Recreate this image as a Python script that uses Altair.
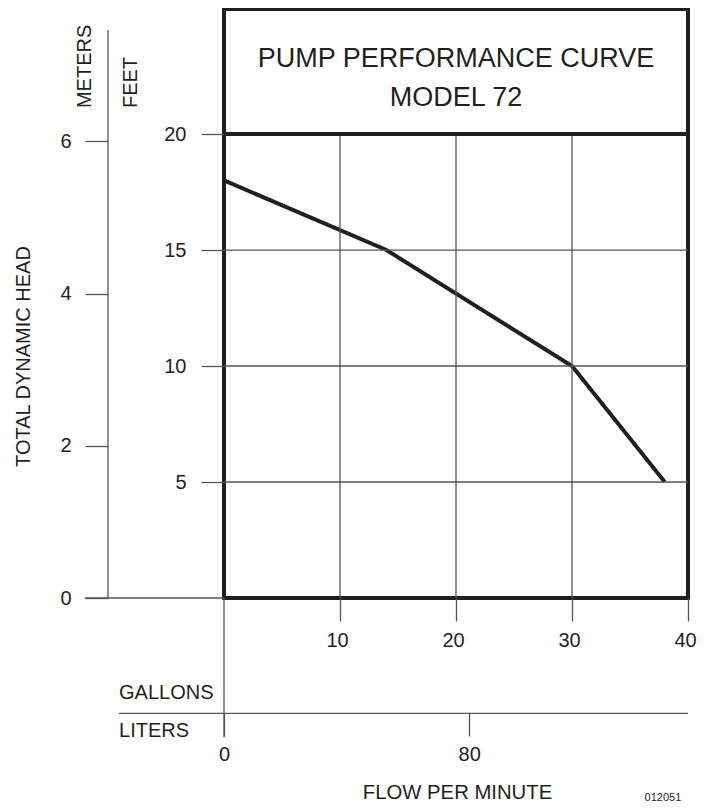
import altair as alt
import pandas as pd

# ---------------- data ----------------
flow_gpm = [0, 14, 30, 38]          # gallons per minute
head_ft = [18.0, 15, 10, 5]         # total dynamic head, feet

gpm_ticks = [10, 20, 30, 40]
ft_ticks = [5, 10, 15, 20]
m_ticks = [0, 2, 4, 6]
lpm_ticks = [0, 80]
gpm_grid = [10, 20, 30]
ft_grid = [5, 10, 15]

title_lines = ["PUMP PERFORMANCE CURVE", "MODEL 72"]
y_title = "TOTAL DYNAMIC HEAD"
x_title = "FLOW PER MINUTE"
unit_labels = ["METERS", "FEET"]
flow_units = ["GALLONS", "LITERS"]
code_label = "012051"

# ---------------- layout / style ----------------
GAL_MAX = 40
FT_MAX = 25.39
M_PER_FT = 0.3048
L_PER_GAL = 3.78541

DARK = "#231f20"
GRAY = "#555555"
FONT = "Liberation Sans, Arial, Helvetica, sans-serif"
TICK_FS = 20

xs = alt.Scale(domain=[0, GAL_MAX], nice=False, zero=False)
ys = alt.Scale(domain=[0, FT_MAX], nice=False, zero=False)


def ax(**kw):
    base = dict(title=None, domain=False, grid=False, labelFont=FONT, labelFontSize=TICK_FS,
                labelColor=DARK, tickColor=GRAY, tickWidth=1.3, labelFlush=False,
                labelOverlap=False)
    base.update(kw)
    return alt.Axis(**base)


GAL_AXIS = ax(orient="bottom", values=gpm_ticks, tickSize=23, labelPadding=9, labelOffset=-3)
FT_AXIS = ax(orient="left", values=ft_ticks, tickSize=23, labelPadding=15)


def X(f):
    return alt.X(f, type="quantitative", scale=xs, axis=GAL_AXIS)


def Y(f):
    return alt.Y(f, type="quantitative", scale=ys, axis=FT_AXIS)


# performance curve
curve = alt.Chart(pd.DataFrame({"g": flow_gpm, "h": head_ft})).mark_line(
    color=DARK, strokeWidth=4, strokeJoin="miter"
).encode(x=X("g"), y=Y("h"), order="g:Q")

vgrid = alt.Chart(pd.DataFrame({"g": gpm_grid, "y0": [0] * 3, "y1": [20] * 3})).mark_rule(
    color=GRAY, strokeWidth=1.3
).encode(x=X("g"), y=Y("y0"), y2="y1")

hgrid = alt.Chart(pd.DataFrame({"h": ft_grid, "x0": [0] * 3, "x1": [GAL_MAX] * 3})).mark_rule(
    color=GRAY, strokeWidth=1.3
).encode(y=Y("h"), x=X("x0"), x2="x1")

sep = alt.Chart(pd.DataFrame({"h": [20], "x0": [0], "x1": [GAL_MAX]})).mark_rule(
    color=DARK, strokeWidth=4
).encode(y=Y("h"), x=X("x0"), x2="x1")

# auxiliary scale lines (meters axis line, zero line, zero-flow drop line, liters line)
aux = pd.DataFrame({
    "x": [-10, -12, 0, -9.05],
    "x2": [-10, 0, 0, GAL_MAX],
    "y": [0, 0, 0, -4.97],
    "y2": [24.48, 0, -6, -4.97],
})
aux_rules = alt.Chart(aux).mark_rule(color=GRAY, strokeWidth=1.3).encode(
    x=X("x"), x2="x2", y=Y("y"), y2="y2"
)


def text_layer(df, size, align="center", angle=0):
    return alt.Chart(df).mark_text(
        fontSize=size, font=FONT, align=align, baseline="middle", angle=angle, color=DARK
    ).encode(x=X("x"), y=Y("y"), text="t:N")


t_title = text_layer(pd.DataFrame({"t": title_lines, "x": [20, 20], "y": [23.23, 21.55]}), 27)
t_ytitle = text_layer(pd.DataFrame({"t": [y_title], "x": [-17.2], "y": [10.41]}), 20, angle=270)
t_units = text_layer(pd.DataFrame({"t": unit_labels, "x": [-11.94, -8.06], "y": [21.12, 21.12]}), 20,
                     align="left", angle=270)
t_flow_units = text_layer(pd.DataFrame({"t": flow_units, "x": [-9.05, -9.05], "y": [-4.11, -5.73]}), 20,
                          align="left")
t_xtitle = text_layer(pd.DataFrame({"t": [x_title], "x": [20.13], "y": [-8.4]}), 20.3)
t_code = text_layer(pd.DataFrame({"t": [code_label], "x": [37.84], "y": [-8.62]}), 11)

base = alt.layer(curve, vgrid, hgrid, aux_rules, sep, t_title, t_ytitle, t_units, t_flow_units, t_xtitle, t_code)

# meters / liters axes on their own scales
ml = alt.Chart(pd.DataFrame({"l": [0], "m": [0]})).mark_point(opacity=0).encode(
    x=alt.X("l:Q", scale=alt.Scale(domain=[0, GAL_MAX * L_PER_GAL], nice=False, zero=False),
            axis=ax(orient="bottom", offset=115, values=lpm_ticks, tickSize=23, labelPadding=8)),
    y=alt.Y("m:Q", scale=alt.Scale(domain=[0, FT_MAX * M_PER_FT], nice=False, zero=False),
            axis=ax(orient="left", offset=116, values=m_ticks, tickSize=23, labelPadding=14)),
)

chart = alt.layer(base, ml).resolve_scale(x="independent", y="independent").properties(
    width=464, height=589,
    padding={"left": 216, "top": 1, "right": 9, "bottom": 206},
    autosize="none",
).configure_view(stroke=DARK, strokeWidth=4)

chart.save("out.html", embed_options={"renderer": "svg", "actions": False})
